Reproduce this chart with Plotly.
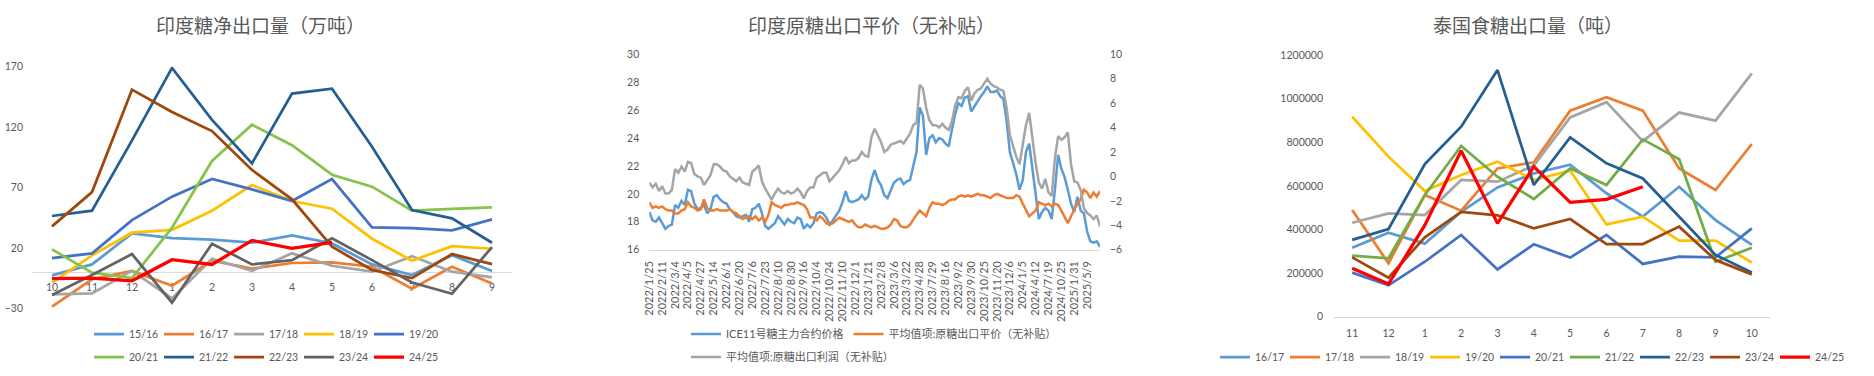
import plotly.graph_objects as go

W, H = 1874, 376

# ---------------- Panel 1: India net sugar exports (10k t) ----------------
india_months = ['10', '11', '12', '1', '2', '3', '4', '5', '6', '7', '8', '9']
india_seasons = ['15/16', '16/17', '17/18', '18/19', '19/20',
                 '20/21', '21/22', '22/23', '23/24', '24/25']
in_1516 = [-2.8, 6.3, 32, 28, 26.8, 24.3, 30.4, 23.7, 6.3, -2.5, 14, 0.8]
in_1617 = [-28.7, -6, 1, -11.3, 9.4, 2.8, 7.5, 8, 4.4, -13.8, 4.4, -9.4]
in_1718 = [-18.5, -17.7, 1, -21.8, 11, 1, 15.5, 5.2, 0.3, 13.2, 0.3, -4.4]
in_1819 = [-8.8, 13.8, 32.6, 35, 50.8, 72, 58.8, 52.4, 27.6, 9.4, 21.5, 19.3]
in_1920 = [11.6, 15.5, 43, 62.4, 77, 68.4, 58.8, 77, 37, 36.4, 34.5, 43.6]
in_2021 = [18.8, -0.5, -5, 36.7, 92, 122, 105, 80.6, 70.7, 50.8, 52.4, 53.5]
in_2122 = [46.4, 50.8, 109, 169, 126, 90, 147.7, 151.8, 103.8, 51.3, 44.4, 24.3]
in_2223 = [37.8, 66.2, 151, 132.5, 116.7, 84.5, 60.2, 21, 1.7, -5, 14.9, 6.6]
in_2324 = [-19, -2.5, 14.9, -25.4, 23.5, 6.3, 9.9, 28, 9.9, -8.6, -18, 20.7]
in_2425 = [-5.5, -5, -7.2, 10.2, 6.3, 26.2, 19.6, 24.6]
india_values = [in_1516, in_1617, in_1718, in_1819, in_1920,
                in_2021, in_2122, in_2223, in_2324, in_2425]
india_colors = ['#5B9BD5', '#ED7D31', '#A5A5A5', '#FFC000', '#4472C4',
                '#84C44A', '#255E91', '#9E480E', '#636363', '#FF0000']

# ---------------- Panel 2: India raw sugar export parity ----------------
date_labels = ['2022/1/25', '2022/2/11', '2022/3/4', '2022/4/5', '2022/4/27',
               '2022/5/14', '2022/6/1', '2022/6/20', '2022/7/6', '2022/7/23',
               '2022/8/10', '2022/8/30', '2022/9/16', '2022/10/4', '2022/10/24',
               '2022/11/10', '2022/12/1', '2023/1/21', '2023/2/8', '2023/3/6',
               '2023/3/22', '2023/4/28', '2023/7/29', '2023/8/16', '2023/9/2',
               '2023/9/30', '2023/10/25', '2023/11/20', '2023/12/6', '2024/1/5',
               '2024/4/12', '2024/7/19', '2024/10/25', '2025/1/31', '2025/5/9']
points_per_label = 4

ice_price = [
    18.7, 18.1, 18.0, 18.3, 17.9, 17.5, 17.7, 17.8, 19.2, 19.0,
    19.5, 19.2, 20.3, 20.2, 19.3, 18.9, 19.0, 19.2, 18.6, 18.9,
    19.8, 19.9, 19.6, 19.4, 19.3, 18.9, 18.7, 18.4, 18.3, 18.4,
    18.5, 18.0, 18.9, 19.0, 19.3, 18.6, 17.7, 17.5, 17.7, 17.9,
    18.4, 18.1, 17.8, 18.2, 18.0, 17.9, 18.3, 18.2, 17.5, 17.8,
    17.6, 17.9, 18.6, 18.7, 18.6, 18.3, 17.8, 18.1, 18.5, 18.8,
    19.4, 20.2, 19.5, 19.4, 19.5, 19.6, 19.9, 19.6, 19.8, 21.0,
    21.7, 21.0, 20.6, 19.9, 19.7, 20.3, 20.8, 21.0, 21.1, 20.7,
    20.9, 21.0, 22.0, 23.0, 26.2, 25.6, 22.8, 24.0, 24.2, 23.7,
    24.0, 23.9, 23.6, 23.4, 24.6, 25.7, 26.5, 26.3, 26.9, 27.0,
    25.9, 26.3, 26.7, 27.0, 27.3, 27.7, 27.3, 27.3, 27.4, 27.0,
    26.8, 25.2, 23.0, 22.2, 21.4, 20.3, 21.0, 23.0, 23.6, 21.8,
    20.0, 18.2, 18.7, 19.0, 18.8, 18.2, 20.3, 22.8, 21.8, 21.2,
    20.3, 19.3, 18.7, 19.8, 18.8, 18.6, 17.3, 16.6, 16.5, 16.6,
    16.2]
export_price = [
    19.4, 19.0, 19.1, 19.0, 19.1, 18.9, 18.8, 18.8, 18.6, 18.6,
    18.8, 18.9, 19.4, 19.1, 19.0, 18.8, 18.9, 19.6, 19.0, 18.8,
    18.8, 18.9, 18.8, 18.8, 18.8, 18.9, 18.7, 18.6, 18.4, 18.2,
    18.3, 18.4, 18.2, 18.4, 18.1, 18.3, 18.0, 18.5, 19.4, 19.2,
    19.1, 19.0, 19.2, 19.2, 19.3, 19.3, 19.4, 19.3, 19.2, 18.9,
    18.3, 18.3, 18.1, 18.4, 18.2, 17.9, 17.8, 17.9, 18.1, 18.3,
    18.2, 18.1, 18.0, 18.1, 17.8, 17.6, 17.6, 17.8, 17.7, 17.6,
    17.7, 17.6, 17.5, 17.5, 17.6, 17.8, 18.2, 18.1, 17.7, 17.6,
    17.6, 17.8, 18.2, 18.5, 18.8, 18.6, 18.4, 19.0, 19.4, 19.3,
    19.3, 19.2, 19.3, 19.5, 19.6, 19.6, 19.8, 19.9, 19.8, 19.9,
    19.8, 19.9, 20.0, 19.9, 19.9, 19.8, 19.7, 19.9, 20.0, 19.9,
    19.8, 19.7, 19.7, 19.7, 19.9, 19.8, 19.3, 18.9, 18.4, 18.6,
    18.8, 19.4, 19.3, 19.2, 19.3, 19.1, 19.3, 19.2, 18.8, 18.3,
    17.9, 18.4, 18.9, 19.3, 19.6, 20.3, 20.1, 19.7, 20.1, 19.8,
    20.2]
export_profit = [
    -0.5, -0.9, -0.6, -1.2, -0.8, -1.4, -1.4, -1.1, 0.6, 0.3,
    0.8, 0.4, 1.2, 1.1, 0.2, 0.0, -0.1, -0.7, -0.3, 0.1,
    1.0, 1.0, 0.8, 0.5, 0.4, 0.0, -0.2, -0.4, -0.1, -0.5,
    -0.6, -0.7, 0.4, 0.6, 0.9, -0.4, -1.0, -1.4, -1.9, -1.4,
    -1.0, -1.3, -1.4, -1.2, -1.4, -1.3, -1.0, -1.3, -1.8, -1.2,
    -0.9, -0.9, -0.1, 0.1, 0.3, 0.3, -0.4, -0.1, 0.2, 0.5,
    1.0, 1.6, 1.1, 1.3, 1.3, 1.5, 2.0, 1.7, 1.6, 3.2,
    3.9, 3.4, 2.8, 2.0, 2.2, 2.6, 2.7, 2.8, 2.9, 2.7,
    3.1, 3.5, 4.2, 4.4, 7.5, 7.2, 5.6, 4.6, 4.2, 4.2,
    4.0, 4.3, 4.0, 3.8, 4.5, 5.8, 6.5, 6.4, 7.0, 7.3,
    6.2, 6.8, 7.1, 7.2, 7.6, 8.0, 7.6, 7.4, 7.3, 7.1,
    7.0, 5.6, 3.4, 2.5, 1.6, 1.0, 2.5, 4.2, 5.2, 3.0,
    1.1, -0.5, -1.0, -0.2, -1.3, -1.6, 1.5, 3.3, 3.0, 3.2,
    3.6, 1.0, -0.4, -0.5, -1.1, -2.6, -3.0, -3.2, -3.5, -3.2,
    -4.1]
parity_names = ['ICE11号糖主力合约价格', '平均值项:原糖出口平价（无补贴）',
                '平均值项:原糖出口利润（无补贴）']
parity_colors = ['#5B9BD5', '#ED7D31', '#A5A5A5']

# ---------------- Panel 3: Thailand sugar exports (t) ----------------
thai_months = ['11', '12', '1', '2', '3', '4', '5', '6', '7', '8', '9', '10']
thai_seasons = ['16/17', '17/18', '18/19', '19/20', '20/21',
                '21/22', '22/23', '23/24', '24/25']
th_1617 = [316000, 385000, 335000, 481000, 593000, 657000, 697000, 566000, 459000, 596000, 443000, 329000]
th_1718 = [489000, 245000, 558000, 486000, 680000, 708000, 945000, 1006000, 945000, 680000, 581000, 792000]
th_1819 = [431000, 474000, 466000, 627000, 619000, 693000, 914000, 984000, 805000, 936000, 899000, 1116000]
th_1920 = [917000, 734000, 576000, 650000, 711000, 627000, 670000, 423000, 459000, 349000, 349000, 248000]
th_2021 = [202000, 144000, 252000, 375000, 217000, 332000, 271000, 375000, 242000, 275000, 272000, 405000]
th_2122 = [280000, 268000, 558000, 783000, 642000, 540000, 680000, 604000, 813000, 722000, 252000, 316000]
th_2223 = [352000, 402000, 700000, 871000, 1131000, 604000, 822000, 703000, 634000, 459000, 283000, 203000]
th_2324 = [272000, 179000, 364000, 481000, 465000, 405000, 448000, 333000, 333000, 413000, 260000, 194000]
th_2425 = [222000, 150000, 420000, 761000, 428000, 688000, 524000, 538000, 596000]
thai_values = [th_1617, th_1718, th_1819, th_1920, th_2021,
               th_2122, th_2223, th_2324, th_2425]
thai_colors = ['#5B9BD5', '#ED7D31', '#A5A5A5', '#FFC000', '#4472C4',
               '#70AD47', '#255E91', '#9E480E', '#FF0000']

# ---------------- styling ----------------
TXT = '#595959'
AXIS_LINE = '#D9D9D9'
FAM = "Lato, 'Noto Sans CJK SC', sans-serif"
num_font = dict(family=FAM, size=10.5, color=TXT)
date_font = dict(family=FAM, size=11, color=TXT)
leg_font = dict(family=FAM, size=10.5, color=TXT)
leg_font_cjk = dict(family=FAM, size=11, color=TXT)
title_font = dict(family="'Noto Sans CJK SC', sans-serif", size=19, color=TXT)

fig = go.Figure()

# panel 1 traces
for i, (name, vals, col) in enumerate(zip(india_seasons, india_values, india_colors)):
    fig.add_trace(go.Scatter(
        x=india_months[:len(vals)], y=vals, name=name, mode='lines',
        line=dict(color=col, width=3.25 if name == '24/25' else 2.75),
        xaxis='x', yaxis='y', legend='legend' if i < 5 else 'legend2'))

# panel 2 traces
xs = list(range(len(ice_price)))
fig.add_trace(go.Scatter(x=xs, y=ice_price, name=parity_names[0], mode='lines',
                         line=dict(color=parity_colors[0], width=2.5),
                         xaxis='x2', yaxis='y2', legend='legend3'))
fig.add_trace(go.Scatter(x=xs, y=export_price, name=parity_names[1], mode='lines',
                         line=dict(color=parity_colors[1], width=2.5),
                         xaxis='x2', yaxis='y2', legend='legend3'))
fig.add_trace(go.Scatter(x=xs, y=export_profit, name=parity_names[2], mode='lines',
                         line=dict(color=parity_colors[2], width=2.5),
                         xaxis='x2', yaxis='y3', legend='legend4'))

# panel 3 traces
for name, vals, col in zip(thai_seasons, thai_values, thai_colors):
    fig.add_trace(go.Scatter(
        x=thai_months[:len(vals)], y=vals, name=name, mode='lines',
        line=dict(color=col, width=3.25 if name == '24/25' else 2.75),
        xaxis='x3', yaxis='y4', legend='legend5'))


def py(px):
    return 1 - px / H


def legend_cfg(x_px, y_px, anchor='left', entry=None, font=leg_font):
    cfg = dict(x=x_px / W, y=py(y_px), xanchor=anchor, yanchor='middle',
               orientation='h', font=font, bgcolor='rgba(0,0,0,0)',
               borderwidth=0, itemclick=False, itemdoubleclick=False)
    if entry is not None:
        cfg.update(entrywidth=entry, entrywidthmode='pixels')
    return cfg


fig.update_layout(
    template='none',
    width=W, height=H,
    margin=dict(l=0, r=0, t=0, b=0),
    paper_bgcolor='white', plot_bgcolor='rgba(0,0,0,0)',
    showlegend=True,
    # panel 1
    xaxis=dict(domain=[32 / W, 512 / W], type='category', range=[-0.5, 11.5],
               categoryorder='array', categoryarray=india_months,
               anchor='free', position=py(272), showline=True, linecolor=AXIS_LINE,
               linewidth=1, showgrid=False, zeroline=False, ticks='',
               tickfont=num_font, layer='below traces', ticklabelstandoff=5,
               fixedrange=True),
    yaxis=dict(domain=[py(308.3), py(66.7)], range=[-30, 170],
               tickvals=[-30, 20, 70, 120, 170], showgrid=False, zeroline=False,
               showline=False, ticks='', tickfont=num_font, anchor='x',
               ticklabelstandoff=8, fixedrange=True),
    # panel 2
    xaxis2=dict(domain=[649.3 / W, 1100 / W], range=[0, len(ice_price) - 1],
                tickvals=[i * points_per_label for i in range(len(date_labels))],
                ticktext=date_labels, tickangle=-90, anchor='y2',
                showline=True, linecolor=AXIS_LINE, linewidth=1, showgrid=False,
                zeroline=False, ticks='', tickfont=date_font, ticklabelstandoff=6,
                fixedrange=True),
    yaxis2=dict(domain=[py(249.7), py(54.3)], range=[16, 30], dtick=2, tick0=16,
                showgrid=False, zeroline=False, showline=False, ticks='',
                tickfont=num_font, anchor='x2', ticklabelstandoff=9, fixedrange=True),
    yaxis3=dict(domain=[py(249.7), py(54.3)], range=[-6, 10], dtick=2, tick0=-6,
                overlaying='y2', side='right', showgrid=False, zeroline=False,
                showline=False, ticks='', tickfont=num_font, anchor='x2',
                ticklabelstandoff=9, fixedrange=True),
    # panel 3
    xaxis3=dict(domain=[1334 / W, 1770 / W], type='category', range=[-0.5, 11.5],
                categoryorder='array', categoryarray=thai_months,
                anchor='y4', showline=True, linecolor=AXIS_LINE, linewidth=1,
                showgrid=False, zeroline=False, ticks='', tickfont=num_font,
                ticklabelstandoff=7, fixedrange=True),
    yaxis4=dict(domain=[py(316.7), py(55)], range=[0, 1200000], dtick=200000,
                tickformat='d', showgrid=False, zeroline=False, showline=False,
                ticks='', tickfont=num_font, anchor='x3', ticklabelstandoff=10,
                fixedrange=True),
    legend=legend_cfg(264, 334, 'center', 25),
    legend2=legend_cfg(264, 357, 'center', 25),
    legend3=legend_cfg(686, 334, font=leg_font_cjk),
    legend4=legend_cfg(686, 357, font=leg_font_cjk),
    legend5=legend_cfg(1530, 357, 'center', 25),
    annotations=[
        dict(text='印度糖净出口量（万吨）', x=260 / W, y=py(25), xref='paper', yref='paper',
             showarrow=False, font=title_font, xanchor='center', yanchor='middle'),
        dict(text='印度原糖出口平价（无补贴）', x=871.7 / W, y=py(25), xref='paper',
             yref='paper', showarrow=False, font=title_font, xanchor='center',
             yanchor='middle'),
        dict(text='泰国食糖出口量（吨）', x=1528 / W, y=py(25), xref='paper', yref='paper',
             showarrow=False, font=title_font, xanchor='center', yanchor='middle'),
    ],
)

fig.write_html(
    'out.html',
    include_plotlyjs=True,
    config={'displayModeBar': False, 'staticPlot': True},
    post_script="document.body.style.margin='0';document.body.style.overflow='hidden';",
)
